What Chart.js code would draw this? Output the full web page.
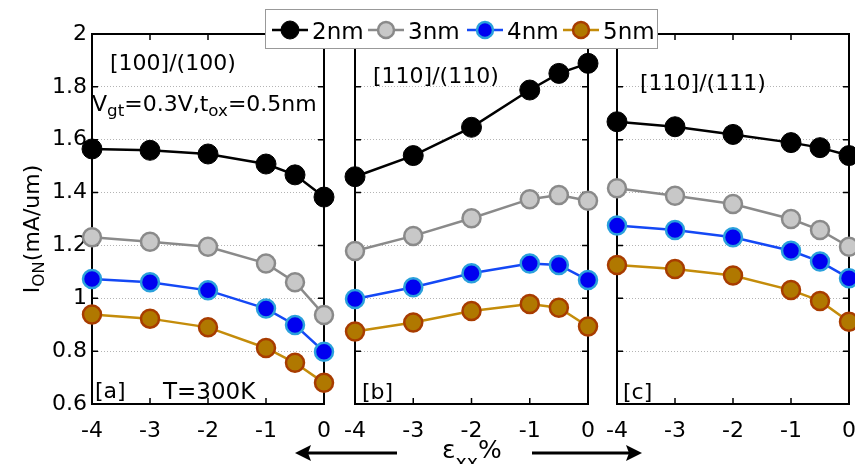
<!DOCTYPE html>
<html>
<head>
<meta charset="utf-8">
<script src="https://cdn.jsdelivr.net/npm/chart.js@4/dist/chart.umd.min.js"></script>
<style>
  body { margin: 0; background: #fff; }
  #wrap { position: relative; width: 855px; height: 464px; overflow: hidden; font-family: 'DejaVu Sans', sans-serif; color: #000; }
  canvas { position: absolute; left: 0; top: 0; }
  .t { position: absolute; line-height: 1; white-space: nowrap; }
  .t sub { font-size: 0.76em; line-height: 0; vertical-align: -0.3em; }
  .t sub.low { vertical-align: -0.6em; }
  #legend { position: absolute; left: 265px; top: 9px; width: 391px; height: 38px; border: 1px solid #999; background: #fff; }
  #legend .item { position: absolute; top: 0; height: 38px; }
  #legend svg { position: absolute; top: 9px; left: 0; }
  #legend span { position: absolute; left: 40px; top: 10px; font-size: 23px; line-height: 1; }
</style>
</head>
<body>
<div id="wrap">
  <canvas id="pa" width="855" height="464"></canvas>
  <canvas id="pb" width="855" height="464"></canvas>
  <canvas id="pc" width="900" height="464"></canvas>
  <div id="texts"></div>
  <svg id="arrows" width="855" height="464" style="position:absolute;left:0;top:0">
    <line x1="397" y1="453" x2="306" y2="453" stroke="#000" stroke-width="3"/>
    <polygon points="295,453 311,445 308,453 311,461" fill="#000"/>
    <line x1="532" y1="453" x2="631" y2="453" stroke="#000" stroke-width="3"/>
    <polygon points="642,453 626,445 629,453 626,461" fill="#000"/>
  </svg>
  <div id="legend"></div>
</div>
<script>
// strain values (%)
const strain = [-4, -3, -2, -1, -0.5, 0];
const seriesNames = ['2nm', '3nm', '4nm', '5nm'];

// [100]/(100)
const a2nm = [1.565, 1.560, 1.546, 1.508, 1.467, 1.383];
const a3nm = [1.231, 1.214, 1.195, 1.132, 1.061, 0.937];
const a4nm = [1.073, 1.061, 1.030, 0.961, 0.899, 0.798];
const a5nm = [0.939, 0.923, 0.890, 0.812, 0.756, 0.680];
// [110]/(110)
const b2nm = [1.460, 1.540, 1.647, 1.788, 1.851, 1.889];
const b3nm = [1.179, 1.236, 1.303, 1.375, 1.391, 1.369];
const b4nm = [0.997, 1.042, 1.095, 1.132, 1.126, 1.069];
const b5nm = [0.874, 0.908, 0.952, 0.978, 0.964, 0.893];
// [110]/(111)
const c2nm = [1.668, 1.649, 1.620, 1.589, 1.570, 1.540];
const c3nm = [1.416, 1.388, 1.357, 1.300, 1.258, 1.195];
const c4nm = [1.275, 1.258, 1.231, 1.180, 1.139, 1.076];
const c5nm = [1.126, 1.111, 1.086, 1.031, 0.990, 0.911];

const yTicks = [0.6, 0.8, 1.0, 1.2, 1.4, 1.6, 1.8, 2.0];
const yTickLabels = ['0.6', '0.8', '1', '1.2', '1.4', '1.6', '1.8', '2'];
const xTicks = [-4, -3, -2, -1, 0];
const xTickLabels = ['-4', '-3', '-2', '-1', '0'];

const lineColors = ['#000000', '#8a8a8a', '#1448f5', '#c48c0a'];
const fillColors = ['#000000', '#c8c8c8', '#0000f0', '#b07800'];
const edgeColors = ['#000000', '#8a8a8a', '#2aa0dc', '#a83c00'];

const FONT = "'DejaVu Sans', sans-serif";

// frame + inward tick marks
const framePlugin = {
  id: 'frame',
  beforeDatasetsDraw(chart) {
    const { ctx, chartArea: a, scales } = chart;
    ctx.save();
    ctx.strokeStyle = '#000';
    ctx.lineWidth = 1.5;
    xTicks.forEach(v => {
      const px = scales.x.getPixelForValue(v);
      ctx.beginPath();
      ctx.moveTo(px, a.bottom); ctx.lineTo(px, a.bottom - 6);
      ctx.moveTo(px, a.top); ctx.lineTo(px, a.top + 6);
      ctx.stroke();
    });
    yTicks.forEach(v => {
      const py = scales.y.getPixelForValue(v);
      ctx.beginPath();
      ctx.moveTo(a.left, py); ctx.lineTo(a.left + 6, py);
      ctx.moveTo(a.right, py); ctx.lineTo(a.right - 6, py);
      ctx.stroke();
    });
    ctx.lineWidth = 2;
    ctx.strokeRect(a.left, a.top, a.right - a.left, a.bottom - a.top);
    ctx.restore();
  }
};

function makePanel(id, data, left, right, showY) {
  const canvas = document.getElementById(id);
  const datasets = data.map((vals, i) => ({
    label: seriesNames[i],
    data: strain.map((s, k) => ({ x: s, y: vals[k] })),
    borderColor: lineColors[i],
    borderWidth: 2.5,
    pointRadius: i === 0 ? 10 : 9,
    pointBorderWidth: i === 0 ? 1 : 2.5,
    pointBackgroundColor: fillColors[i],
    pointBorderColor: edgeColors[i],
    clip: false,
    tension: 0
  }));
  return new Chart(canvas, {
    type: 'line',
    data: { datasets },
    options: {
      responsive: false,
      animation: false,
      devicePixelRatio: 1,
      layout: { padding: { left: 0, top: 34, right: canvas.width - right, bottom: 0 } },
      plugins: { legend: { display: false }, tooltip: { enabled: false } },
      scales: {
        x: {
          type: 'linear', min: -4, max: 0,
          afterBuildTicks: ax => { ax.ticks = xTicks.map(v => ({ value: v })); },
          afterFit: ax => { ax.height = 60; ax.paddingLeft = 0; ax.paddingRight = 0; },
          grid: { display: false, drawTicks: false },
          border: { display: false },
          ticks: {
            color: '#000', padding: 14, maxRotation: 0,
            font: { family: FONT, size: 22 },
            callback: (v, i) => xTickLabels[i]
          }
        },
        y: {
          min: 0.6, max: 2,
          afterBuildTicks: ax => { ax.ticks = yTicks.map(v => ({ value: v })); },
          afterFit: ax => { ax.width = left; ax.paddingTop = 0; ax.paddingBottom = 0; },
          grid: { color: '#b4b4b4', lineWidth: 1, drawTicks: false },
          border: { display: false, dash: [1, 2] },
          ticks: {
            display: showY, color: '#000', padding: 5,
            font: { family: FONT, size: 22 },
            callback: (v, i) => yTickLabels[i]
          }
        }
      }
    },
    plugins: [framePlugin]
  });
}

makePanel('pa', [a2nm, a3nm, a4nm, a5nm], 92, 324, true);
makePanel('pb', [b2nm, b3nm, b4nm, b5nm], 355, 588, false);
makePanel('pc', [c2nm, c3nm, c4nm, c5nm], 617, 849, false);

// text labels
const texts = document.getElementById('texts');
function place(html, left, baseline, size) {
  const d = document.createElement('div');
  d.className = 't';
  d.style.left = left + 'px';
  d.style.top = (baseline - 0.846 * size) + 'px';
  d.style.fontSize = size + 'px';
  d.innerHTML = html;
  texts.appendChild(d);
  return d;
}
place('[100]/(100)', 110, 71, 22);
place('V<sub>gt</sub>=0.3V,t<sub>ox</sub>=0.5nm', 92, 112, 22);
place('[a]', 95, 399, 22);
place('T=300K', 163, 399, 23);
place('[110]/(110)', 373, 84, 22);
place('[b]', 362, 400, 22);
place('[110]/(111)', 640, 91, 22);
place('[c]', 623, 400, 22);
place('&epsilon;<sub class="low">xx</sub>%', 442, 458, 25);

const yt = place('I<sub>ON</sub>(mA/um)', 0, 0, 22);
yt.style.left = '32px';
yt.style.top = '229px';
yt.style.transform = 'translate(-50%,-50%) rotate(-90deg)';

// legend
const legend = document.getElementById('legend');
const legendX = [6, 102, 201, 297];
seriesNames.forEach((name, i) => {
  const it = document.createElement('div');
  it.className = 'item';
  it.style.left = legendX[i] + 'px';
  it.innerHTML =
    '<svg width="36" height="22"><line x1="0" y1="11" x2="36" y2="11" stroke="' + lineColors[i] + '" stroke-width="2.5"/>' +
    '<circle cx="18" cy="11" r="' + (i === 0 ? 9 : 8) + '" fill="' + fillColors[i] + '" stroke="' + edgeColors[i] + '" stroke-width="' + (i === 0 ? 1 : 2.5) + '"/></svg>' +
    '<span>' + name + '</span>';
  legend.appendChild(it);
});
</script>
</body>
</html>
